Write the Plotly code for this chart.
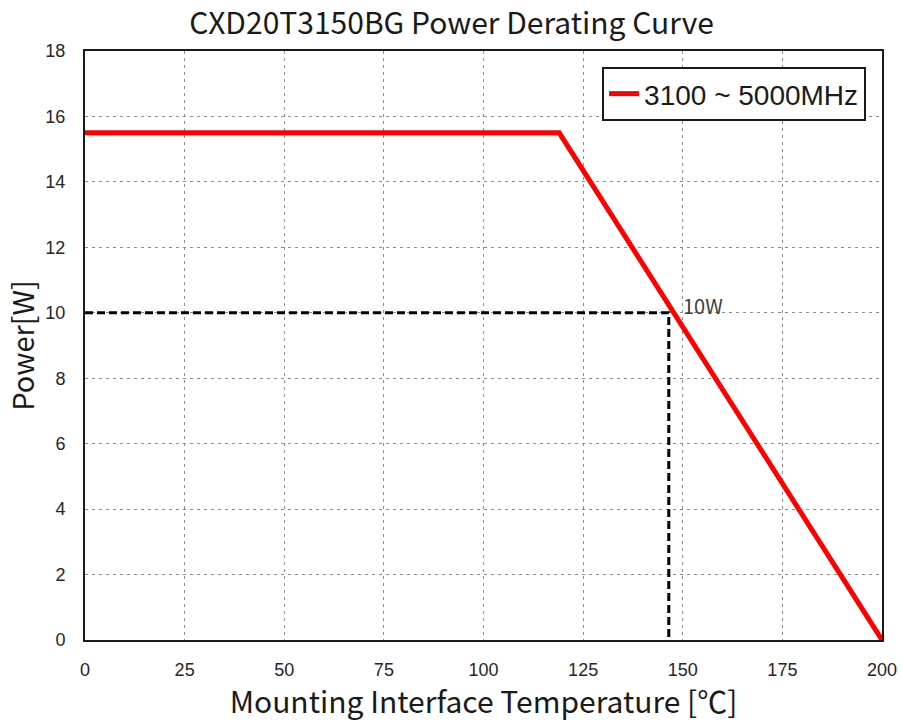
import plotly.graph_objects as go

temp = [0, 119, 200]
power = [15.5, 15.5, 0]
ref_x = [0, 146.5, 146.5]
ref_y = [10, 10, 0]
series_name = "3100 ~ 5000MHz"
x_ticks = [0, 25, 50, 75, 100, 125, 150, 175, 200]
y_ticks = [0, 2, 4, 6, 8, 10, 12, 14, 16, 18]

title_font = "Noto Sans CJK KR"
tick_font = dict(family="Liberation Sans", size=18, color="#262626")

fig = go.Figure()
fig.add_trace(go.Scatter(x=ref_x, y=ref_y, mode="lines", showlegend=False,
                         line=dict(color="black", width=3, dash="8px,4px"), hoverinfo="skip"))
fig.add_trace(go.Scatter(x=temp, y=power, mode="lines", name=series_name,
                         line=dict(color="#ff0000", width=5)))
fig.add_annotation(x=146.5, y=10, text="10W", showarrow=False, xanchor="left", yanchor="bottom",
                   xshift=12, yshift=-9, font=dict(family=title_font, size=20, color="#404040"))

fig.update_layout(
    width=903, height=722,
    margin=dict(l=85, r=21, t=51, b=82),
    paper_bgcolor="white", plot_bgcolor="white",
    title=dict(text="CXD20T3150BG Power Derating Curve", x=0.5, xanchor="center",
               y=0.968, yanchor="middle",
               font=dict(family=title_font, size=30, color="#1a1a1a")),
    font=dict(family="Liberation Sans", size=18, color="#262626"),
    legend=dict(x=0.98, y=0.973, xanchor="right", yanchor="top", bordercolor="#1a1a1a", borderwidth=2,
                bgcolor="white", font=dict(family="Liberation Sans", size=28, color="#1a1a1a"),
                tracegroupgap=0),
    xaxis=dict(range=[0, 200], tickvals=x_ticks, showgrid=True, gridcolor="#8c8c8c", griddash="3px,4px",
               gridwidth=1, showline=True, linecolor="#1a1a1a", linewidth=2, mirror=True, zeroline=False,
               ticks="", ticklabelstandoff=12, automargin=False, tickfont=tick_font,
               title=dict(text="Mounting Interface Temperature [℃]", standoff=12,
                          font=dict(family=title_font, size=30, color="#1a1a1a"))),
    yaxis=dict(range=[0, 18], tickvals=y_ticks, showgrid=True, gridcolor="#8c8c8c", griddash="3px,4px",
               gridwidth=1, showline=True, linecolor="#1a1a1a", linewidth=2, mirror=True, zeroline=False,
               ticks="", ticklabelstandoff=14, automargin=False, tickfont=tick_font,
               title=dict(text="Power[W]", standoff=6,
                          font=dict(family=title_font, size=29, color="#1a1a1a"))),
)
fig.write_html("out.html", config={"displayModeBar": False},
               post_script="document.body.style.margin='0';document.body.style.overflow='hidden';")
